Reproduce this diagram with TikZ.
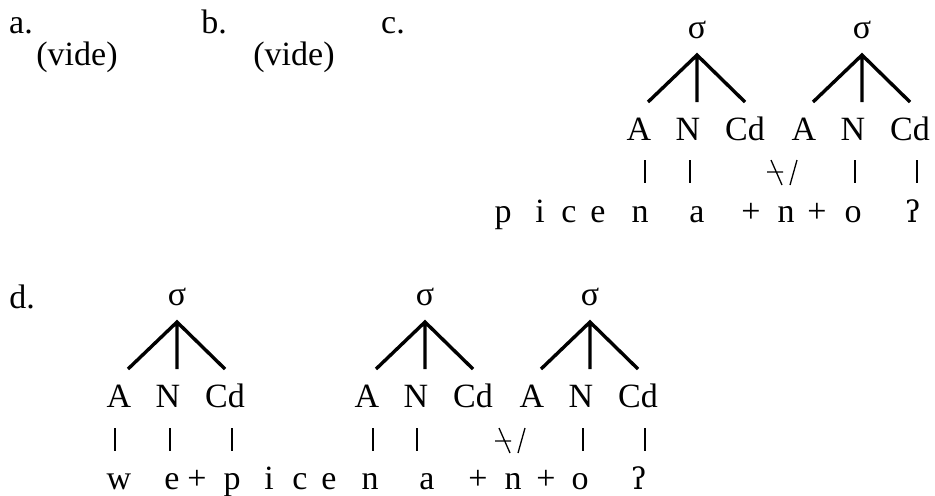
\documentclass[tikz,border=0pt]{standalone}
\usepackage{fontspec}
\setmainfont{Liberation Serif}
\newfontfamily\ipafont{DejaVu Serif}
\newcommand\glot{{\ipafont\fontsize{15}{17}\selectfont ʔ}}
\tikzset{
  seg/.style={anchor=base,inner sep=0pt,font=\fontsize{17}{20}\selectfont},
  branch/.style={line width=1.7pt},
  assoc/.style={line width=0.65pt}
}
\begin{document}
\begin{tikzpicture}[x=0.5pt,y=-0.5pt]
\useasboundingbox (0,0) rectangle (935,495);
\node[seg] (la) at (21,33) {a.};
\node[seg] (va) at (77,65) {(vide)};
\node[seg] (lb) at (214,33) {b.};
\node[seg] (vb) at (294,65) {(vide)};
\node[seg] (lc) at (393,33) {c.};
\node[seg] (ld) at (22,308) {d.};
\foreach \tr/\x/\y in {c1/697/38,c2/862/38,d1/177/305,d2/425/305,d3/590/305} {
  \node[seg] (s\tr) at (\x,\y) {σ};
  \coordinate (top\tr) at (\x,\y+17);
  \coordinate (l\tr) at (\x-49,\y+64);
  \coordinate (m\tr) at (\x,\y+64);
  \coordinate (r\tr) at (\x+48,\y+64);
  \node[seg] (a\tr) at (\x-58,\y+102) {A};
  \node[seg] (n\tr) at (\x-9,\y+102) {N};
  \node[seg] (cd\tr) at (\x+48,\y+102) {Cd};
  \draw[branch] (l\tr) -- (top\tr) -- (r\tr) (top\tr) -- (m\tr);
}
% righe dei segmenti
\foreach \x/\s [count=\i] in {503/p,540/i,569/c,598/e,640/n,697/a,751/+,786/n,817/+,853/o,913/\glot}
  \node[seg] (cs\i) at (\x,222) {\s};
\foreach \x/\s [count=\i] in {119/w,172/e,197/+,232/p,269/i,300/c,329/e,370/n,427/a,478/+,513/n,546/+,580/o,639/\glot}
  \node[seg] (ds\i) at (\x,489) {\s};
\foreach \x in {645,690,855,917}
  \draw[assoc] (\x,160) -- (\x,183);
\foreach \x in {115,170,232,373,417,583,645}
  \draw[assoc] (\x,428) -- (\x,451);
\draw[assoc] (771,160) -- (782,185) (767,172) -- (783,172) (797,160) -- (790,185);
\draw[assoc] (499,428) -- (510,453) (495,441) -- (511,441) (525,428) -- (518,453);
\end{tikzpicture}
\end{document}
